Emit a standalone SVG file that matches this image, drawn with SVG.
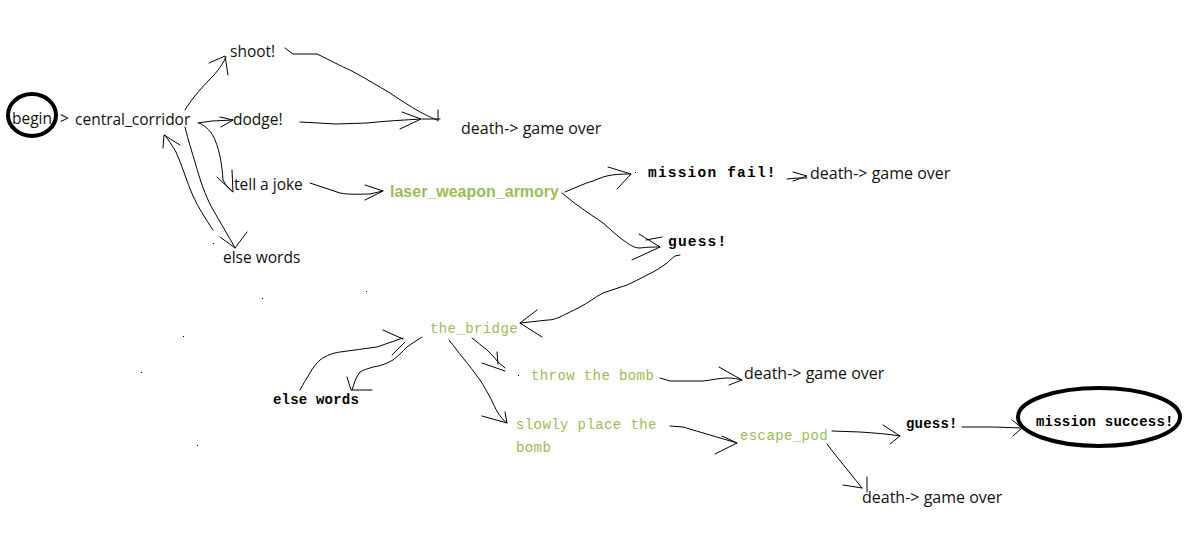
<svg xmlns="http://www.w3.org/2000/svg" width="1190" height="548" viewBox="0 0 1190 548">
<style>
.bg{fill:#fff}
.t{font-family:"Open Sans","Liberation Sans",sans-serif;font-size:15.5px;fill:#111}
.d{font-size:16px}
.g{font-family:"Liberation Sans",Arial,sans-serif;font-size:16px;font-weight:bold;fill:#9bbb59}
.mb{font-family:"Liberation Mono","DejaVu Sans Mono",monospace;font-size:14.5px;font-weight:bold;fill:#000;letter-spacing:1.2px}
.ms{font-family:"Liberation Mono","DejaVu Sans Mono",monospace;font-size:14px;font-weight:bold;fill:#000;letter-spacing:0.2px}
.mg{font-family:"Liberation Mono","DejaVu Sans Mono",monospace;font-size:14px;fill:#9bbb59;letter-spacing:0.4px}
.ring{fill:none;stroke:#000;stroke-width:4}
.c path{fill:none;stroke:#000;stroke-width:1;stroke-linejoin:round;stroke-linecap:round}
.dot{fill:#000}
</style>
<rect class="bg" width="1190" height="548"/>

<g id="connectors" class="c">
  <!-- central_corridor -> shoot! -->
  <path d="M185,110 C192,98 205,84 214,75 C220,68 224,62 226,57"/>
  <path d="M209,63 L225,56 L228,75"/>
  <!-- central_corridor -> dodge! -->
  <path d="M198,123 L212,121 L233,120"/>
  <path d="M220,117 L233,120 L221,127"/>
  <!-- central_corridor -> tell a joke -->
  <path d="M199,123 C206,126 212,132 215,140 C220,152 222,165 223,180 C226,186 229,189 233,192"/>
  <path d="M217,177 L233,192 L232,170"/>
  <!-- central_corridor -> else words -->
  <path d="M185,127 C188,140 192,152 195,162 C200,180 205,195 212,208 C220,222 228,235 235,248"/>
  <path d="M220,237 L235,248 L247,232"/>
  <!-- else words -> central_corridor -->
  <path d="M213,230 C205,218 198,207 193,196 C186,180 182,165 176,152 C172,145 168,140 165,135"/>
  <path d="M163,148 L164,135 L180,145"/>
  <!-- shoot! -> death -->
  <path d="M285,48 L293,54 L317,54 C330,60 340,66 350,70 C365,78 378,86 390,93 C400,100 410,106 420,112 C428,116 432,118 437,120"/>
  <path d="M422,119 L440,119 M438,110 L438,121"/>
  <!-- dodge! -> death -->
  <path d="M300,122 L336,124 L367,123 C385,121 405,120 421,119"/>
  <path d="M402,112 L421,119 L400,129"/>
  <!-- tell a joke -> laser_weapon_armory -->
  <path d="M310,183 C320,186 330,190 340,193 C350,195 362,194 370,194 L383,191"/>
  <path d="M365,185 L383,191 L365,200"/>
  <!-- laser -> mission fail! -->
  <path d="M565,192 C575,188 585,183 593,181 C600,178 605,176 612,175 C620,174 626,174 631,174"/>
  <path d="M608,167 L631,174 L617,189"/>
  <!-- laser -> guess! -->
  <path d="M562,193 C568,198 574,203 580,207 C588,213 596,218 603,223 C610,229 616,235 623,240 C630,245 634,248 640,248 C648,247 654,247 660,247"/>
  <path d="M639,234 L660,247 L632,260 M646,240 L662,237"/>
  <!-- guess! -> the_bridge -->
  <path d="M680,255 L675,256 C671,259 669,261 667,263 C660,268 654,272 647,275 C640,279 633,282 627,285 C619,288 611,290 603,293 C595,297 588,303 580,307 C572,311 566,314 560,317 C555,319 552,320 548,320 C538,321 530,322 520,323"/>
  <path d="M537,310 L520,323 L542,337"/>
  <!-- mission fail! -> death -->
  <path d="M787,179 L797,178 L807,178"/>
  <path d="M793,172 L807,176 L793,181"/>
  <!-- the_bridge -> else words (down) -->
  <path d="M422,337 C416,341 411,344 407,347 C402,352 398,356 393,360 C386,364 380,366 373,367 C367,369 363,370 360,372 C357,376 355,380 354,384 L352,390"/>
  <path d="M347,377 L351,390 L372,390"/>
  <!-- else words -> the_bridge (up) -->
  <path d="M300,390 C303,384 307,378 310,373 C313,367 317,363 320,360 C327,355 333,353 340,352 C352,350 365,349 377,347 C385,344 392,342 397,340 L403,338"/>
  <path d="M383,330 L403,339 M392,355 L405,342"/>
  <!-- the_bridge -> throw the bomb -->
  <path d="M472,338 C477,342 482,346 487,350 C491,354 495,358 498,362 L505,368"/>
  <path d="M497,352 L498,364 M482,363 L505,371"/>
  <!-- the_bridge -> slowly place the bomb -->
  <path d="M449,340 C454,346 458,352 463,358 C469,365 474,372 480,380 C484,386 487,392 490,397 C493,403 495,408 498,413 C501,417 503,420 507,423"/>
  <path d="M482,416 L507,423 L505,412"/>
  <!-- throw the bomb -> death -->
  <path d="M660,378 L670,381 L703,381 C712,380 720,378 727,378 C734,378 738,379 742,380"/>
  <path d="M719,367 L742,380 L729,385"/>
  <!-- slowly place the bomb -> escape_pod -->
  <path d="M670,426 L683,427 C692,430 701,432 710,435 C719,438 728,440 737,443"/>
  <path d="M722,436 L737,443 L715,454"/>
  <!-- escape_pod -> guess! -->
  <path d="M832,431 L860,432 C875,433 888,434 900,436"/>
  <path d="M883,425 L900,436 L890,444"/>
  <!-- guess! -> mission success! -->
  <path d="M962,427 L993,427 L1022,428"/>
  <path d="M1012,420 L1022,428 L1013,436"/>
  <!-- escape_pod -> death (bottom) -->
  <path d="M827,444 C830,448 834,453 837,457 C841,462 846,468 850,473 C854,478 858,483 862,488"/>
  <path d="M843,485 L862,488 M867,477 L867,492"/>
</g>

<g id="strays">
  <rect class="dot" x="262" y="298" width="1" height="1"/>
  <rect class="dot" x="366" y="291" width="1" height="1"/>
  <rect class="dot" x="183" y="336" width="1" height="1"/>
  <rect class="dot" x="141" y="372" width="1" height="1"/>
  <rect class="dot" x="197" y="445" width="1" height="1"/>
  <rect class="dot" x="213" y="243" width="1" height="1"/>
  <rect class="dot" x="635" y="172" width="1" height="1"/>
  <rect class="dot" x="518" y="375" width="1" height="1"/>
</g>

<g id="begin">
  <ellipse class="ring" cx="32" cy="115" rx="24" ry="21"/>
  <text class="t" x="12" y="124">begin</text>
  <text class="t" x="60" y="124">&gt;</text>
</g>
<g id="central_corridor"><text class="t" x="75" y="125">central_corridor</text></g>
<g id="shoot"><text class="t" x="230" y="57">shoot!</text></g>
<g id="dodge"><text class="t" x="233" y="125">dodge!</text></g>
<g id="tell_a_joke"><text class="t" x="234" y="190">tell a joke</text></g>
<g id="else_words_1"><text class="t" x="223" y="263">else words</text></g>
<g id="death_1"><text class="t d" x="461" y="134">death-&gt; game over</text></g>
<g id="laser_weapon_armory"><text class="g" x="390" y="197">laser_weapon_armory</text></g>
<g id="mission_fail"><text class="mb" x="648" y="177">mission fail!</text></g>
<g id="death_2"><text class="t d" x="810" y="179">death-&gt; game over</text></g>
<g id="guess_1"><text class="mb" x="668" y="246">guess!</text></g>
<g id="the_bridge"><text class="mg" x="430" y="333">the_bridge</text></g>
<g id="else_words_2"><text class="ms" x="273" y="404">else words</text></g>
<g id="throw_the_bomb"><text class="mg" x="531" y="380">throw the bomb</text></g>
<g id="death_3"><text class="t d" x="744" y="379">death-&gt; game over</text></g>
<g id="slowly_place"><text class="mg" x="516" y="429">slowly place the</text><text class="mg" x="516" y="452">bomb</text></g>
<g id="escape_pod"><text class="mg" x="740" y="440">escape_pod</text></g>
<g id="guess_2"><text class="ms" x="906" y="428">guess!</text></g>
<g id="mission_success">
  <ellipse class="ring" cx="1099" cy="417" rx="81" ry="29"/>
  <text class="ms" x="1036" y="426">mission success!</text>
</g>
<g id="death_4"><text class="t d" x="862" y="503">death-&gt; game over</text></g>
</svg>
